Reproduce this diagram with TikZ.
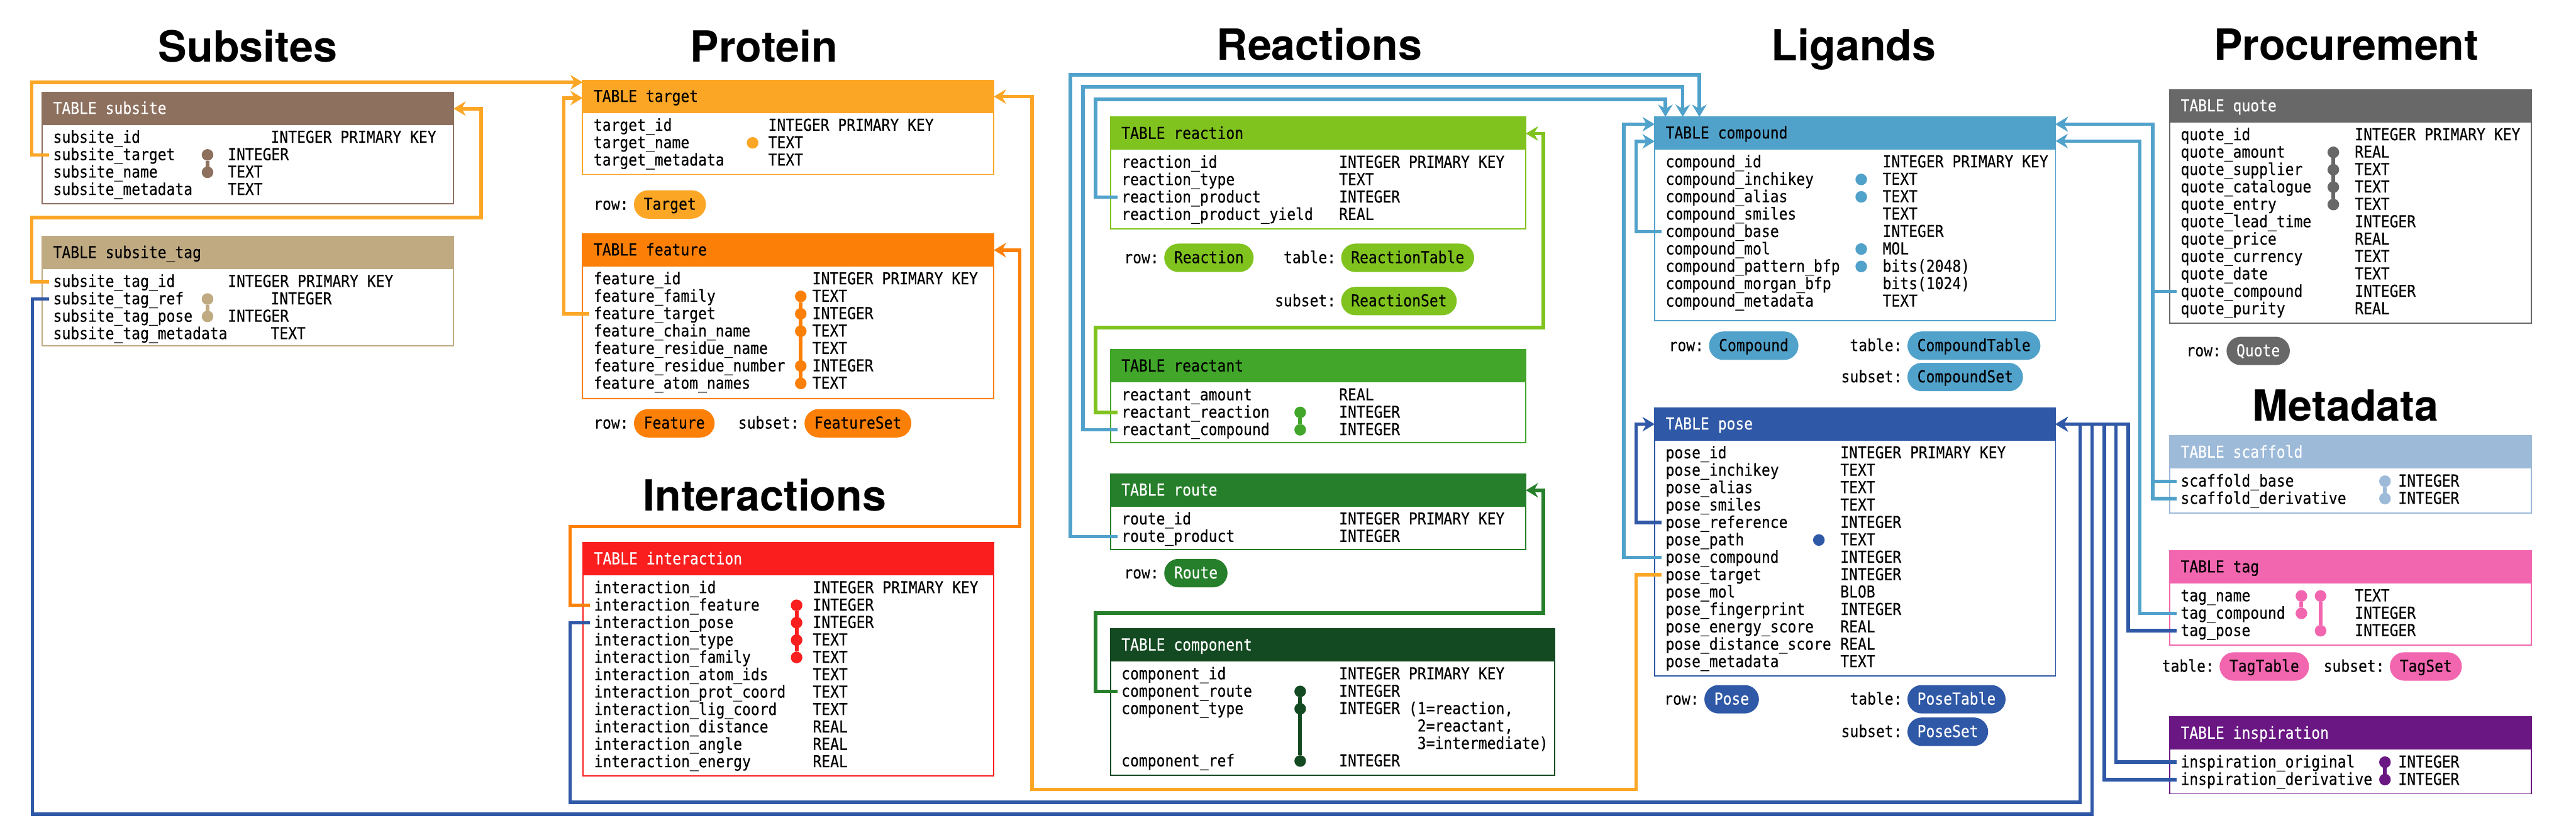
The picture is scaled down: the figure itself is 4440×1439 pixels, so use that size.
\documentclass[tikz,border=0pt]{standalone}
\usepackage{fontspec}
\usetikzlibrary{calc,arrows.meta}
\newfontfamily\tabf[FakeStretch=0.88,FakeBold=0.3]{DejaVu Sans Mono}
\newfontfamily\titlef{TeX Gyre Heros}
\newcommand{\tabfont}{\tabf\fontsize{8.5}{9}\selectfont}
\newcommand{\titlefont}{\titlef\bfseries\fontsize{22.2}{26}\selectfont}
\definecolor{cSub}{HTML}{8E705E}
\definecolor{cSTag}{HTML}{C0AA82}
\definecolor{cTgt}{HTML}{FCA626}
\definecolor{cFeat}{HTML}{FC8008}
\definecolor{cInt}{HTML}{FA1E1E}
\definecolor{cRxn}{HTML}{80C31F}
\definecolor{cRct}{HTML}{41A62A}
\definecolor{cRoute}{HTML}{267F2A}
\definecolor{cComp}{HTML}{144A22}
\definecolor{cCpd}{HTML}{51A2CB}
\definecolor{cPose}{HTML}{2F58A6}
\definecolor{cQuote}{HTML}{686868}
\definecolor{cScaf}{HTML}{9DBAD9}
\definecolor{cTag}{HTML}{F266B0}
\definecolor{cInsp}{HTML}{6A1784}
\tikzset{
  hdr/.style={rectangle, inner sep=0pt, outer sep=0pt, anchor=north west, minimum height=16.95pt},
  bodybox/.style={rectangle, inner sep=0pt, outer sep=0pt, anchor=north west, fill=white, line width=0.6pt},
  txt/.style={inner sep=0pt, outer sep=0pt, anchor=west, font=\tabfont, text height=0.75em, text depth=0.2em},
  dot/.style={circle, inner sep=0pt, outer sep=0pt, minimum size=6pt},
  dotbar/.style={line width=2pt},
  fk/.style={line width=1.8pt, -{Stealth[length=6.3pt,width=7.5pt,inset=2.1pt]}},
  pill/.style={rectangle, rounded corners=7.35pt, inner xsep=5.1pt, inner ysep=0pt, minimum height=14.7pt, font=\tabfont, text height=0.75em, text depth=0.2em, anchor=west},
  title/.style={font=\titlefont, anchor=base, inner sep=0pt}
}
% name, left, top, width, color, textcolor, title, body height
\newcommand{\dbtable}[8]{%
  \node[bodybox, draw=#5, minimum width={#4*0.3pt}, minimum height={(56.5+#8)*0.3pt}] (#1-box) at (#2,#3) {};
  \node[hdr, fill=#5, minimum width={#4*0.3pt}] (#1) at (#2,#3) {};
  \node[txt, text=#6] (#1-title) at ($(#1.west)+(19,0)$) {TABLE #7};
}
% table, index, field, type offset, type
\newcommand{\dbrow}[5]{%
  \node[txt] (#1-r#2) at ($(#1.south west)+(19,{21.5+30*(#2-1)})$) {#3};
  \node[txt] (#1-t#2) at ($(#1.south west)+(#4,{21.5+30*(#2-1)})$) {#5};
}
% table, row, xoffset, color
\newcommand{\dbdot}[4]{%
  \node[dot, fill=#4] (#1-d#2-#3) at ($(#1.south west)+(#3,{21.5+30*(#2-1)})$) {};
}
% name, label, x, y, fill, textcolor, text
\newcommand{\dbpill}[7]{%
  \node[pill, fill=#5, text=#6] (#1) at (#3,#4) {#7};
  \node[txt, anchor=east] (#1-lbl) at ($(#1.west)+(-8.5,0)$) {#2};
}
\begin{document}
\begin{tikzpicture}[x=0.3pt, y=-0.3pt]
\useasboundingbox (0,0) rectangle (4440,1439);
\fill[white] (0,0) rectangle (4440,1439);

% ---------- titles
\node[title] (t-subsites) at (427,107) {Subsites};
\node[title] (t-protein) at (1317,107) {Protein};
\node[title] (t-reactions) at (2274,103.5) {Reactions};
\node[title] (t-ligands) at (3195,105) {Ligands};
\node[title] (t-procurement) at (4044,103) {Procurement};
\node[title] (t-interactions) at (1318,881) {Interactions};
\node[title] (t-metadata) at (4043,725.5) {Metadata};

% ---------- Subsites
\dbtable{subsite}{72.7}{159}{709}{cSub}{white}{subsite}{136}
\dbrow{subsite}{1}{subsite\_id}{394}{INTEGER PRIMARY KEY}
\dbrow{subsite}{2}{subsite\_target}{320}{INTEGER}
\dbrow{subsite}{3}{subsite\_name}{320}{TEXT}
\dbrow{subsite}{4}{subsite\_metadata}{320}{TEXT}
\dbdot{subsite}{2}{285}{cSub}
\dbdot{subsite}{3}{285}{cSub}
\draw[dotbar, cSub] (subsite-d2-285) -- (subsite-d3-285);

\dbtable{stag}{72.7}{407.5}{709}{cSTag}{black}{subsite\_tag}{132}
\dbrow{stag}{1}{subsite\_tag\_id}{320}{INTEGER PRIMARY KEY}
\dbrow{stag}{2}{subsite\_tag\_ref}{394}{INTEGER}
\dbrow{stag}{3}{subsite\_tag\_pose}{320}{INTEGER}
\dbrow{stag}{4}{subsite\_tag\_metadata}{394}{TEXT}
\dbdot{stag}{2}{285}{cSTag}
\dbdot{stag}{3}{285}{cSTag}
\draw[dotbar, cSTag] (stag-d2-285) -- (stag-d3-285);

% ---------- Protein
\dbtable{target}{1004.2}{138.3}{708.8}{cTgt}{black}{target}{106}
\dbrow{target}{1}{target\_id}{320}{INTEGER PRIMARY KEY}
\dbrow{target}{2}{target\_name}{320}{TEXT}
\dbrow{target}{3}{target\_metadata}{320}{TEXT}
\dbdot{target}{2}{293}{cTgt}
\dbpill{p-target}{row:}{1092}{352.5}{cTgt}{black}{Target}

\dbtable{feature}{1004.2}{403}{708.8}{cFeat}{black}{feature}{228}
\dbrow{feature}{1}{feature\_id}{396}{INTEGER PRIMARY KEY}
\dbrow{feature}{2}{feature\_family}{396}{TEXT}
\dbrow{feature}{3}{feature\_target}{396}{INTEGER}
\dbrow{feature}{4}{feature\_chain\_name}{396}{TEXT}
\dbrow{feature}{5}{feature\_residue\_name}{396}{TEXT}
\dbrow{feature}{6}{feature\_residue\_number}{396}{INTEGER}
\dbrow{feature}{7}{feature\_atom\_names}{396}{TEXT}
\dbdot{feature}{2}{376}{cFeat}
\dbdot{feature}{3}{376}{cFeat}
\dbdot{feature}{4}{376}{cFeat}
\dbdot{feature}{6}{376}{cFeat}
\dbdot{feature}{7}{376}{cFeat}
\draw[dotbar, cFeat] (feature-d2-376) -- (feature-d7-376);
\dbpill{p-feature}{row:}{1092}{729.7}{cFeat}{black}{Feature}
\dbpill{p-featureset}{subset:}{1386}{729.7}{cFeat}{black}{FeatureSet}

% ---------- Interactions
\dbtable{interaction}{1005}{935.5}{708}{cInt}{white}{interaction}{346}
\dbrow{interaction}{1}{interaction\_id}{396}{INTEGER PRIMARY KEY}
\dbrow{interaction}{2}{interaction\_feature}{396}{INTEGER}
\dbrow{interaction}{3}{interaction\_pose}{396}{INTEGER}
\dbrow{interaction}{4}{interaction\_type}{396}{TEXT}
\dbrow{interaction}{5}{interaction\_family}{396}{TEXT}
\dbrow{interaction}{6}{interaction\_atom\_ids}{396}{TEXT}
\dbrow{interaction}{7}{interaction\_prot\_coord}{396}{TEXT}
\dbrow{interaction}{8}{interaction\_lig\_coord}{396}{TEXT}
\dbrow{interaction}{9}{interaction\_distance}{396}{REAL}
\dbrow{interaction}{10}{interaction\_angle}{396}{REAL}
\dbrow{interaction}{11}{interaction\_energy}{396}{REAL}
\dbdot{interaction}{2}{368}{cInt}
\dbdot{interaction}{3}{368}{cInt}
\dbdot{interaction}{4}{368}{cInt}
\dbdot{interaction}{5}{368}{cInt}
\draw[dotbar, cInt] (interaction-d2-368) -- (interaction-d5-368);

% ---------- Reactions
\dbtable{reaction}{1914}{202}{716}{cRxn}{black}{reaction}{136}
\dbrow{reaction}{1}{reaction\_id}{394}{INTEGER PRIMARY KEY}
\dbrow{reaction}{2}{reaction\_type}{394}{TEXT}
\dbrow{reaction}{3}{reaction\_product}{394}{INTEGER}
\dbrow{reaction}{4}{reaction\_product\_yield}{394}{REAL}
\dbpill{p-reaction}{row:}{2006}{444.5}{cRxn}{black}{Reaction}
\dbpill{p-reactiontable}{table:}{2311}{444.5}{cRxn}{black}{ReactionTable}
\dbpill{p-reactionset}{subset:}{2311}{519}{cRxn}{black}{ReactionSet}

\dbtable{reactant}{1914}{603}{716}{cRct}{black}{reactant}{104}
\dbrow{reactant}{1}{reactant\_amount}{394}{REAL}
\dbrow{reactant}{2}{reactant\_reaction}{394}{INTEGER}
\dbrow{reactant}{3}{reactant\_compound}{394}{INTEGER}
\dbdot{reactant}{2}{327}{cRct}
\dbdot{reactant}{3}{327}{cRct}
\draw[dotbar, cRct] (reactant-d2-327) -- (reactant-d3-327);

\dbtable{route}{1914}{817}{716}{cRoute}{white}{route}{74}
\dbrow{route}{1}{route\_id}{394}{INTEGER PRIMARY KEY}
\dbrow{route}{2}{route\_product}{394}{INTEGER}
\dbpill{p-route}{row:}{2006}{988}{cRoute}{white}{Route}

\dbtable{component}{1914}{1084}{766}{cComp}{white}{component}{196}
\dbrow{component}{1}{component\_id}{394}{INTEGER PRIMARY KEY}
\dbrow{component}{2}{component\_route}{394}{INTEGER}
\dbrow{component}{3}{component\_type}{394}{INTEGER (1=reaction,}
\dbrow{component}{4}{}{394}{\phantom{INTEGER (}2=reactant,}
\dbrow{component}{5}{}{394}{\phantom{INTEGER (}3=intermediate)}
\dbrow{component}{6}{component\_ref}{394}{INTEGER}
\dbdot{component}{2}{327}{cComp}
\dbdot{component}{3}{327}{cComp}
\dbdot{component}{6}{327}{cComp}
\draw[dotbar, cComp] (component-d2-327) -- (component-d6-327);

% ---------- Ligands
\dbtable{compound}{2852}{201.4}{691}{cCpd}{black}{compound}{295}
\dbrow{compound}{1}{compound\_id}{393}{INTEGER PRIMARY KEY}
\dbrow{compound}{2}{compound\_inchikey}{393}{TEXT}
\dbrow{compound}{3}{compound\_alias}{393}{TEXT}
\dbrow{compound}{4}{compound\_smiles}{393}{TEXT}
\dbrow{compound}{5}{compound\_base}{393}{INTEGER}
\dbrow{compound}{6}{compound\_mol}{393}{MOL}
\dbrow{compound}{7}{compound\_pattern\_bfp}{393}{bits(2048)}
\dbrow{compound}{8}{compound\_morgan\_bfp}{393}{bits(1024)}
\dbrow{compound}{9}{compound\_metadata}{393}{TEXT}
\dbdot{compound}{2}{356}{cCpd}
\dbdot{compound}{3}{356}{cCpd}
\dbdot{compound}{6}{356}{cCpd}
\dbdot{compound}{7}{356}{cCpd}
\dbpill{p-compound}{row:}{2945}{596}{cCpd}{black}{Compound}
\dbpill{p-compoundtable}{table:}{3287}{596}{cCpd}{black}{CompoundTable}
\dbpill{p-compoundset}{subset:}{3287}{650}{cCpd}{black}{CompoundSet}

\dbtable{pose}{2852}{703}{691}{cPose}{white}{pose}{406}
\dbrow{pose}{1}{pose\_id}{320}{INTEGER PRIMARY KEY}
\dbrow{pose}{2}{pose\_inchikey}{320}{TEXT}
\dbrow{pose}{3}{pose\_alias}{320}{TEXT}
\dbrow{pose}{4}{pose\_smiles}{320}{TEXT}
\dbrow{pose}{5}{pose\_reference}{320}{INTEGER}
\dbrow{pose}{6}{pose\_path}{320}{TEXT}
\dbrow{pose}{7}{pose\_compound}{320}{INTEGER}
\dbrow{pose}{8}{pose\_target}{320}{INTEGER}
\dbrow{pose}{9}{pose\_mol}{320}{BLOB}
\dbrow{pose}{10}{pose\_fingerprint}{320}{INTEGER}
\dbrow{pose}{11}{pose\_energy\_score}{320}{REAL}
\dbrow{pose}{12}{pose\_distance\_score}{320}{REAL}
\dbrow{pose}{13}{pose\_metadata}{320}{TEXT}
\dbdot{pose}{6}{283}{cPose}
\dbpill{p-pose}{row:}{2937}{1205.5}{cPose}{white}{Pose}
\dbpill{p-posetable}{table:}{3287}{1205.5}{cPose}{white}{PoseTable}
\dbpill{p-poseset}{subset:}{3287}{1261.5}{cPose}{white}{PoseSet}

% ---------- Procurement
\dbtable{quote}{3739.7}{154.6}{623.3}{cQuote}{white}{quote}{346}
\dbrow{quote}{1}{quote\_id}{319}{INTEGER PRIMARY KEY}
\dbrow{quote}{2}{quote\_amount}{319}{REAL}
\dbrow{quote}{3}{quote\_supplier}{319}{TEXT}
\dbrow{quote}{4}{quote\_catalogue}{319}{TEXT}
\dbrow{quote}{5}{quote\_entry}{319}{TEXT}
\dbrow{quote}{6}{quote\_lead\_time}{319}{INTEGER}
\dbrow{quote}{7}{quote\_price}{319}{REAL}
\dbrow{quote}{8}{quote\_currency}{319}{TEXT}
\dbrow{quote}{9}{quote\_date}{319}{TEXT}
\dbrow{quote}{10}{quote\_compound}{319}{INTEGER}
\dbrow{quote}{11}{quote\_purity}{319}{REAL}
\dbdot{quote}{2}{282}{cQuote}
\dbdot{quote}{3}{282}{cQuote}
\dbdot{quote}{4}{282}{cQuote}
\dbdot{quote}{5}{282}{cQuote}
\draw[dotbar, cQuote] (quote-d2-282) -- (quote-d5-282);
\dbpill{p-quote}{row:}{3837}{605}{cQuote}{white}{Quote}

% ---------- Metadata
\dbtable{scaffold}{3739.7}{751.6}{623.3}{cScaf}{white}{scaffold}{76}
\dbrow{scaffold}{1}{scaffold\_base}{394}{INTEGER}
\dbrow{scaffold}{2}{scaffold\_derivative}{394}{INTEGER}
\dbdot{scaffold}{1}{371}{cScaf}
\dbdot{scaffold}{2}{371}{cScaf}
\draw[dotbar, cScaf] (scaffold-d1-371) -- (scaffold-d2-371);

\dbtable{tag}{3739.7}{949.4}{623.3}{cTag}{black}{tag}{106}
\dbrow{tag}{1}{tag\_name}{319}{TEXT}
\dbrow{tag}{2}{tag\_compound}{319}{INTEGER}
\dbrow{tag}{3}{tag\_pose}{319}{INTEGER}
\dbdot{tag}{1}{227}{cTag}
\dbdot{tag}{2}{227}{cTag}
\dbdot{tag}{1}{260}{cTag}
\dbdot{tag}{3}{260}{cTag}
\draw[dotbar, cTag] (tag-d1-227) -- (tag-d2-227);
\draw[dotbar, cTag] (tag-d1-260) -- (tag-d3-260);
\dbpill{p-tagtable}{table:}{3825}{1149}{cTag}{black}{TagTable}
\dbpill{p-tagset}{subset:}{4118.5}{1149}{cTag}{black}{TagSet}

\dbtable{inspiration}{3739.7}{1236}{623.3}{cInsp}{white}{inspiration}{76}
\dbrow{inspiration}{1}{inspiration\_original}{394}{INTEGER}
\dbrow{inspiration}{2}{inspiration\_derivative}{394}{INTEGER}
\dbdot{inspiration}{1}{371}{cInsp}
\dbdot{inspiration}{2}{371}{cInsp}
\draw[dotbar, cInsp] (inspiration-d1-371) -- (inspiration-d2-371);

% ---------- connectors
\coordinate (a1) at ($(subsite-r2.west)+(-7,0)$);
\draw[fk, cTgt] (a1) -- (a1 -| 54.5,0) |- ($(target.north west)+(0,3.5)$);
\coordinate (a2) at ($(stag-r1.west)+(-7,0)$);
\draw[fk, cTgt] (a2) -- (a2 -| 54.5,0) |- (829,375) |- (subsite.east);
\coordinate (a3) at ($(stag-r2.west)+(-7,0)$);
\draw[fk, cPose] (a3) -- (a3 -| 56,0) |- (3606,1404) |- (pose.east);
\coordinate (a4) at ($(feature-r3.west)+(-7,0)$);
\draw[fk, cTgt] (a4) -- (a4 -| 971.7,0) |- ($(target.north west)+(0,30.7)$);
\coordinate (a5) at ($(interaction-r2.west)+(-7,0)$);
\draw[fk, cFeat] (a5) -- (a5 -| 982.5,0) |- (1757.7,908) |- (feature.east);
\coordinate (a6) at ($(interaction-r3.west)+(-7,0)$);
\draw[fk, cPose] (a6) -- (a6 -| 982.5,0) |- (3585,1383) |- (pose.east);
\coordinate (a7) at ($(pose-r8.west)+(-7,0)$);
\draw[fk, cTgt] (a7) -- (a7 -| 2820,0) |- (1779,1361) |- (target.east);
\coordinate (a8) at ($(reaction-r3.west)+(-7,0)$);
\draw[fk, cCpd] (a8) -- (a8 -| 1888,0) |- ($(compound.north west)+(18.5,-30.4)$) -- ($(compound.north west)+(18.5,0)$);
\coordinate (a9) at ($(reactant-r3.west)+(-7,0)$);
\draw[fk, cCpd] (a9) -- (a9 -| 1866.6,0) |- ($(compound.north west)+(48.4,-52)$) -- ($(compound.north west)+(48.4,0)$);
\coordinate (a10) at ($(route-r2.west)+(-7,0)$);
\draw[fk, cCpd] (a10) -- (a10 -| 1845,0) |- ($(compound.north west)+(77,-72.4)$) -- ($(compound.north west)+(77,0)$);
\coordinate (a11) at ($(reactant-r2.west)+(-7,0)$);
\draw[fk, cRxn] (a11) -- (a11 -| 1888,0) |- (2660,565) |- (reaction.east);
\coordinate (a12) at ($(component-r2.west)+(-7,0)$);
\draw[fk, cRoute] (a12) -- (a12 -| 1888,0) |- (2660,1057) |- (route.east);
\coordinate (a13) at ($(compound-r5.west)+(-7,0)$);
\draw[fk, cCpd] (a13) -- (a13 -| 2820,0) |- ($(compound.west)+(0,14)$);
\coordinate (a14) at ($(pose-r7.west)+(-7,0)$);
\draw[fk, cCpd] (a14) -- (a14 -| 2799,0) |- ($(compound.west)+(0,-15.5)$);
\coordinate (a15) at ($(pose-r5.west)+(-7,0)$);
\draw[fk, cPose] (a15) -- (a15 -| 2820,0) |- (pose.west);
\coordinate (a16) at ($(quote-r10.west)+(-7,0)$);
\draw[fk, cCpd] (a16) -- (a16 -| 3710.5,0) |- ($(compound.east)+(0,-15.5)$);
\coordinate (a17) at ($(scaffold-r1.west)+(-7,0)$);
\draw[fk, cCpd] (a17) -- (a17 -| 3710.5,0) |- ($(compound.east)+(0,-15.5)$);
\coordinate (a18) at ($(scaffold-r2.west)+(-7,0)$);
\draw[fk, cCpd] (a18) -- (a18 -| 3710.5,0) |- ($(compound.east)+(0,-15.5)$);
\coordinate (a19) at ($(tag-r2.west)+(-7,0)$);
\draw[fk, cCpd] (a19) -- (a19 -| 3688,0) |- ($(compound.east)+(0,13.5)$);
\coordinate (a20) at ($(tag-r3.west)+(-7,0)$);
\draw[fk, cPose] (a20) -- (a20 -| 3668,0) |- (pose.east);
\coordinate (a21) at ($(inspiration-r1.west)+(-7,0)$);
\draw[fk, cPose] (a21) -- (a21 -| 3647,0) |- (pose.east);
\coordinate (a22) at ($(inspiration-r2.west)+(-7,0)$);
\draw[fk, cPose] (a22) -- (a22 -| 3627,0) |- (pose.east);
\end{tikzpicture}
\end{document}
